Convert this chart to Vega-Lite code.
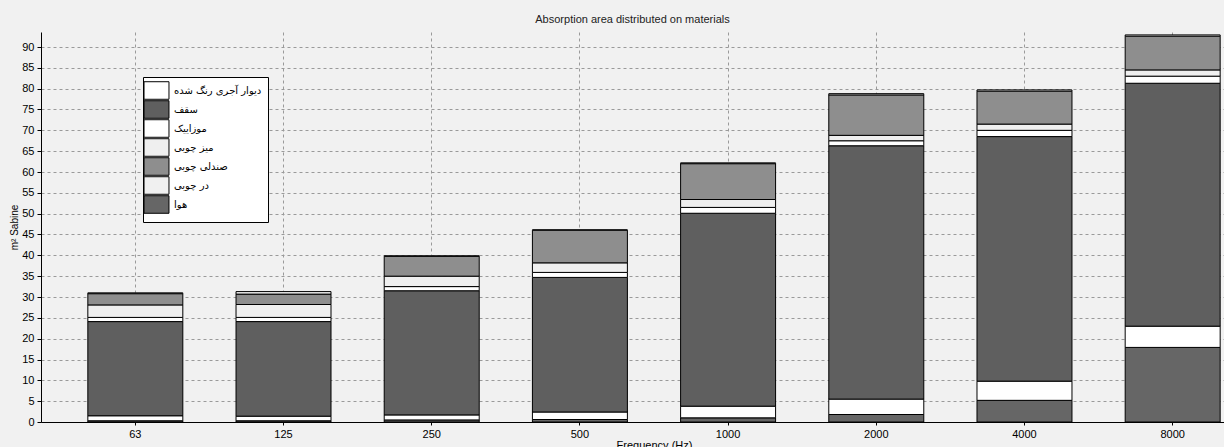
{
  "$schema": "https://vega.github.io/schema/vega-lite/v6.json",
  "width": 1183,
  "height": 390,
  "autosize": {"type": "none"},
  "padding": {"left": 41, "top": 32, "right": 0, "bottom": 25},
  "background": "#f1f1f1",
  "title": {
    "text": "Absorption area distributed on materials",
    "font": "Liberation Sans",
    "fontSize": 11,
    "fontWeight": "normal",
    "color": "#222222",
    "offset": 7
  },
  "config": {"view": {"stroke": null}},
  "data": {
    "values": [
      {"freq": "63", "material": "هوا", "area": 0.3},
      {"freq": "63", "material": "دیوار آجری رنگ شده", "area": 1.2},
      {"freq": "63", "material": "سقف", "area": 22.6},
      {"freq": "63", "material": "موزاییک", "area": 1.0},
      {"freq": "63", "material": "میز چوبی", "area": 3.0},
      {"freq": "63", "material": "صندلی چوبی", "area": 2.7},
      {"freq": "63", "material": "در چوبی", "area": 0.2},

      {"freq": "125", "material": "هوا", "area": 0.3},
      {"freq": "125", "material": "دیوار آجری رنگ شده", "area": 1.1},
      {"freq": "125", "material": "سقف", "area": 22.7},
      {"freq": "125", "material": "موزاییک", "area": 1.0},
      {"freq": "125", "material": "میز چوبی", "area": 3.1},
      {"freq": "125", "material": "صندلی چوبی", "area": 2.5},
      {"freq": "125", "material": "در چوبی", "area": 0.6},

      {"freq": "250", "material": "هوا", "area": 0.5},
      {"freq": "250", "material": "دیوار آجری رنگ شده", "area": 1.2},
      {"freq": "250", "material": "سقف", "area": 29.8},
      {"freq": "250", "material": "موزاییک", "area": 1.0},
      {"freq": "250", "material": "میز چوبی", "area": 2.5},
      {"freq": "250", "material": "صندلی چوبی", "area": 4.75},
      {"freq": "250", "material": "در چوبی", "area": 0.15},

      {"freq": "500", "material": "هوا", "area": 0.6},
      {"freq": "500", "material": "دیوار آجری رنگ شده", "area": 1.8},
      {"freq": "500", "material": "سقف", "area": 32.3},
      {"freq": "500", "material": "موزاییک", "area": 1.2},
      {"freq": "500", "material": "میز چوبی", "area": 2.3},
      {"freq": "500", "material": "صندلی چوبی", "area": 7.85},
      {"freq": "500", "material": "در چوبی", "area": 0.05},

      {"freq": "1000", "material": "هوا", "area": 1.0},
      {"freq": "1000", "material": "دیوار آجری رنگ شده", "area": 2.8},
      {"freq": "1000", "material": "سقف", "area": 46.3},
      {"freq": "1000", "material": "موزاییک", "area": 1.4},
      {"freq": "1000", "material": "میز چوبی", "area": 1.9},
      {"freq": "1000", "material": "صندلی چوبی", "area": 8.6},
      {"freq": "1000", "material": "در چوبی", "area": 0.2},

      {"freq": "2000", "material": "هوا", "area": 1.8},
      {"freq": "2000", "material": "دیوار آجری رنگ شده", "area": 3.7},
      {"freq": "2000", "material": "سقف", "area": 60.8},
      {"freq": "2000", "material": "موزاییک", "area": 1.2},
      {"freq": "2000", "material": "میز چوبی", "area": 1.3},
      {"freq": "2000", "material": "صندلی چوبی", "area": 9.7},
      {"freq": "2000", "material": "در چوبی", "area": 0.3},

      {"freq": "4000", "material": "هوا", "area": 5.2},
      {"freq": "4000", "material": "دیوار آجری رنگ شده", "area": 4.6},
      {"freq": "4000", "material": "سقف", "area": 58.7},
      {"freq": "4000", "material": "موزاییک", "area": 1.5},
      {"freq": "4000", "material": "میز چوبی", "area": 1.5},
      {"freq": "4000", "material": "صندلی چوبی", "area": 7.9},
      {"freq": "4000", "material": "در چوبی", "area": 0.3},

      {"freq": "8000", "material": "هوا", "area": 17.9},
      {"freq": "8000", "material": "دیوار آجری رنگ شده", "area": 5.1},
      {"freq": "8000", "material": "سقف", "area": 58.3},
      {"freq": "8000", "material": "موزاییک", "area": 1.7},
      {"freq": "8000", "material": "میز چوبی", "area": 1.5},
      {"freq": "8000", "material": "صندلی چوبی", "area": 8.1},
      {"freq": "8000", "material": "در چوبی", "area": 0.3}
    ]
  },
  "transform": [
    {
      "calculate": "indexof(['هوا', 'دیوار آجری رنگ شده', 'سقف', 'موزاییک', 'میز چوبی', 'صندلی چوبی', 'در چوبی'], datum.material)",
      "as": "stackRank"
    }
  ],
  "mark": {"type": "bar", "stroke": "#000000", "strokeWidth": 1},
  "encoding": {
    "x": {
      "field": "freq",
      "type": "ordinal",
      "sort": null,
      "scale": {"range": [0, 1226], "paddingInner": 0.359, "paddingOuter": 0.316},
      "axis": {
        "title": "Frequency (Hz)",
        "titleX": 613,
        "titleFont": "Liberation Sans",
        "titleFontSize": 11,
        "titleFontWeight": "normal",
        "titleColor": "#000000",
        "titlePadding": 0,
        "labelAngle": 0,
        "labelFont": "Liberation Sans",
        "labelFontSize": 11,
        "labelColor": "#000000",
        "labelPadding": 3,
        "bandPosition": 0.5,
        "grid": true,
        "gridDash": [3, 3],
        "gridColor": "#9a9a9a",
        "gridOpacity": 1,
        "domainColor": "#000000",
        "tickColor": "#000000",
        "tickSize": 3
      }
    },
    "y": {
      "field": "area",
      "type": "quantitative",
      "stack": "zero",
      "scale": {"domain": [0, 93.6], "nice": false},
      "axis": {
        "title": "m² Sabine",
        "titleFont": "Liberation Sans",
        "titleFontSize": 10,
        "titleFontWeight": "normal",
        "titleColor": "#000000",
        "titlePadding": 2,
        "values": [0, 5, 10, 15, 20, 25, 30, 35, 40, 45, 50, 55, 60, 65, 70, 75, 80, 85, 90],
        "labelFont": "Liberation Sans",
        "labelFontSize": 11,
        "labelColor": "#000000",
        "labelPadding": 3,
        "grid": true,
        "gridDash": [3, 3],
        "gridColor": "#9a9a9a",
        "gridOpacity": 1,
        "domainColor": "#000000",
        "tickColor": "#000000",
        "tickSize": 4
      }
    },
    "color": {
      "field": "material",
      "type": "nominal",
      "scale": {
        "domain": ["دیوار آجری رنگ شده", "سقف", "موزاییک", "میز چوبی", "صندلی چوبی", "در چوبی", "هوا"],
        "range": ["#ffffff", "#5f5f5f", "#ffffff", "#efefef", "#8e8e8e", "#f0f0f0", "#666666"]
      },
      "legend": {
        "orient": "none",
        "legendX": 102,
        "legendY": 45,
        "title": null,
        "symbolType": "M-1.85,-1.3H1.85V1.3H-1.85Z",
        "symbolSize": 182,
        "symbolStrokeColor": "#000000",
        "symbolStrokeWidth": 1,
        "symbolOpacity": 1,
        "labelFont": "DejaVu Sans",
        "labelFontSize": 10,
        "labelColor": "#000000",
        "labelOffset": 10,
        "labelLimit": 200,
        "rowPadding": -4.5,
        "padding": 6,
        "fillColor": "#ffffff",
        "strokeColor": "#000000"
      }
    },
    "order": {"field": "stackRank", "type": "quantitative"}
  }
}
